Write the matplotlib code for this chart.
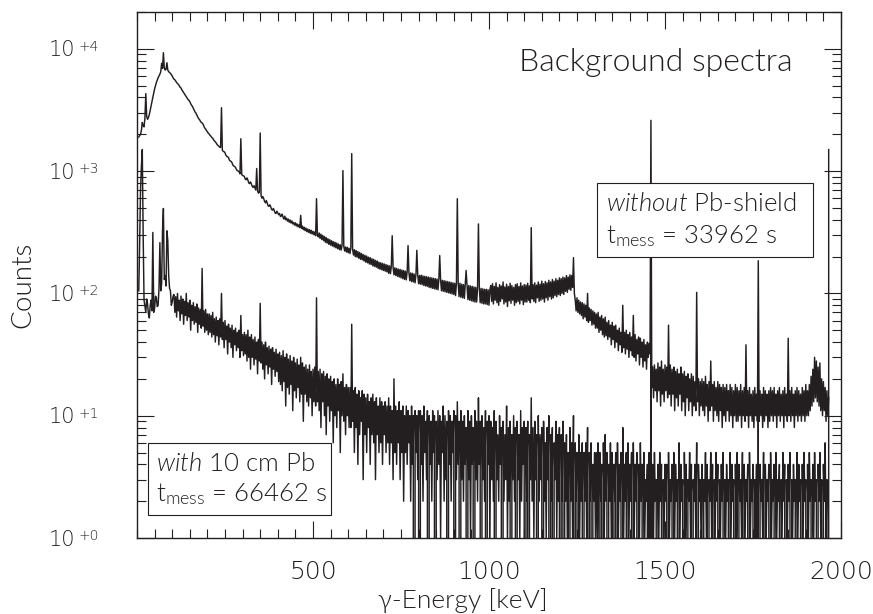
import numpy as np
import matplotlib
matplotlib.use("Agg")
import matplotlib.pyplot as plt
from matplotlib.ticker import FixedLocator, MultipleLocator, LogLocator, NullFormatter, FixedFormatter
from matplotlib.patches import Rectangle
from matplotlib import font_manager as fm

# ---------------- data ----------------
E_START_KEV = 5.0    # energy of first plotted channel
E_STEP_KEV = 2.5     # energy width of one plotted channel (5 ... 1965 keV)

# spectrum without Pb shield (t = 33962 s); one block = 100 keV
counts_without = [
    1900, 1950, 2000, 2150, 2500, 2350, 2300, 2700, 4300, 2800,
    2650, 2750, 2900, 3150, 3400, 3700, 4000, 4350, 4700, 5000,
    5300, 5550, 5800, 6000, 6200, 6500, 7600, 6900, 9300, 7000,
    6700, 6800, 7700, 6700, 6500, 6400, 6300, 6150, 6000, 5800,
    # 105 keV
    5650, 5580, 5450, 5300, 5200, 5120, 5000, 4850, 4780, 4620,
    4500, 4400, 4270, 4150, 4050, 3960, 3850, 3790, 3700, 3560,
    3460, 3380, 3260, 3150, 3040, 2980, 2870, 2770, 2690, 2640,
    2560, 2500, 2480, 2420, 2330, 2250, 2210, 2140, 2100, 2040,
    # 205 keV
    2010, 1960, 1930, 1880, 1860, 1800, 1770, 1730, 1700, 1650,
    1620, 1600, 1570, 1560, 3300, 1480, 1450, 1440, 1410, 1350,
    1320, 1310, 1290, 1230, 1210, 1200, 1170, 1120, 1100, 1090,
    1070, 1030, 1010, 1000, 990, 950, 1840, 940, 920, 915,
    # 305 keV
    905, 860, 850, 880, 845, 800, 790, 815, 785, 750,
    735, 760, 730, 700, 1050, 690, 660, 670, 2050, 630,
    600, 620, 595, 565, 550, 575, 545, 520, 515, 530,
    510, 485, 480, 495, 475, 455, 450, 470, 455, 440,
    # 405 keV
    450, 425, 430, 445, 418, 405, 428, 400, 412, 390,
    405, 382, 398, 376, 392, 370, 380, 362, 378, 356,
    370, 350, 364, 345, 435, 340, 355, 332, 348, 326,
    342, 320, 336, 315, 332, 310, 328, 306, 322, 302,
    # 505 keV
    318, 296, 595, 300, 290, 312, 282, 305, 276, 298,
    270, 292, 262, 286, 258, 280, 252, 275, 248, 270,
    244, 265, 240, 262, 236, 258, 232, 253, 228, 250,
    226, 246, 1010, 242, 222, 240, 218, 238, 215, 234,
    # 605 keV
    212, 236, 1390, 230, 206, 228, 200, 224, 198, 220,
    194, 216, 190, 212, 188, 208, 184, 205, 180, 202,
    178, 198, 174, 196, 172, 192, 168, 190, 166, 186,
    164, 184, 160, 180, 158, 178, 156, 176, 154, 174,
    # 705 keV
    152, 172, 150, 170, 146, 168, 145, 166, 296, 164,
    142, 162, 140, 160, 138, 158, 136, 157, 134, 155,
    132, 154, 130, 152, 129, 150, 246, 148, 127, 147,
    125, 146, 124, 144, 122, 143, 225, 142, 120, 140,
    # 805 keV
    119, 141, 118, 139, 116, 138, 115, 137, 114, 136,
    112, 135, 111, 134, 110, 133, 109, 132, 108, 131,
    107, 130, 204, 129, 105, 128, 104, 127, 103, 126,
    102, 125, 101, 124, 100, 123, 99, 122, 98, 121,
    # 905 keV
    96, 122, 595, 120, 94, 121, 93, 119, 92, 118,
    91, 117, 154, 116, 89, 116, 88, 115, 87, 114,
    86, 113, 85, 112, 85, 111, 370, 110, 84, 110,
    83, 109, 82, 108, 82, 108, 81, 107, 80, 107,
    # 1005 keV
    116, 86, 120, 82, 114, 88, 122, 84, 112, 80,
    118, 86, 115, 90, 124, 82, 113, 85, 119, 78,
    114, 87, 121, 83, 116, 88, 112, 80, 118, 84,
    120, 86, 114, 82, 122, 88, 115, 81, 118, 85,
    # 1105 keV
    117, 85, 121, 88, 115, 84, 345, 90, 118, 86,
    122, 84, 117, 92, 124, 86, 119, 88, 126, 90,
    120, 85, 125, 92, 122, 88, 128, 94, 124, 90,
    130, 92, 126, 96, 132, 94, 128, 98, 134, 96,
    # 1205 keV
    132, 100, 136, 98, 134, 104, 140, 102, 136, 108,
    142, 106, 140, 112, 196, 100, 88, 72, 92, 70,
    88, 68, 85, 66, 84, 62, 82, 64, 80, 60,
    100, 58, 76, 60, 74, 55, 72, 56, 70, 52,
    # 1305 keV
    68, 52, 70, 48, 64, 50, 66, 46, 62, 44,
    64, 45, 58, 42, 60, 44, 55, 38, 58, 42,
    54, 36, 55, 40, 50, 34, 52, 38, 48, 33,
    80, 36, 48, 32, 50, 35, 46, 30, 48, 34,
    # 1405 keV
    44, 31, 66, 30, 46, 28, 42, 32, 44, 26,
    43, 30, 40, 25, 42, 28, 38, 24, 40, 30,
    39, 32, 2600, 17, 25, 14, 26, 16, 24, 13,
    27, 16, 25, 12, 28, 15, 24, 13, 26, 16,
    # 1505 keV
    25, 14, 55, 15, 26, 12, 24, 15, 25, 11,
    23, 14, 24, 12, 22, 15, 25, 11, 22, 13,
    23, 10, 21, 14, 22, 11, 20, 13, 22, 10,
    21, 12, 19, 11, 102, 13, 20, 10, 19, 12,
    # 1605 keV
    20, 11, 19, 10, 21, 12, 18, 9, 19, 11,
    28, 12, 18, 9, 19, 11, 17, 10, 19, 9,
    18, 11, 17, 8, 18, 10, 17, 9, 18, 11,
    16, 9, 18, 10, 17, 8, 16, 10, 18, 9,
    # 1705 keV
    17, 9, 16, 10, 18, 8, 16, 10, 17, 9,
    38, 10, 16, 8, 17, 10, 15, 9, 16, 8,
    17, 10, 15, 9, 185, 9, 16, 10, 15, 8,
    17, 9, 16, 10, 15, 8, 16, 9, 17, 10,
    # 1805 keV
    16, 9, 17, 10, 15, 8, 16, 10, 17, 9,
    15, 10, 16, 8, 17, 10, 15, 9, 43, 10,
    16, 9, 17, 10, 15, 8, 16, 10, 17, 9,
    16, 10, 15, 9, 17, 10, 16, 9, 18, 10,
    # 1905 keV
    16, 10, 18, 11, 21, 12, 24, 13, 30, 14,
    28, 13, 25, 12, 27, 11, 20, 10, 19, 11,
    17, 9, 16, 10, 14,
]

# spectrum with 10 cm Pb shield (t = 66462 s); same channels
counts_with = [
    105, 250, 700, 1100, 1500, 300, 88, 78, 70, 90,
    82, 68, 63, 80, 88, 72, 315, 70, 75, 95,
    92, 78, 80, 110, 260, 105, 120, 325, 495, 130,
    140, 115, 325, 270, 140, 110, 105, 80, 85, 95,
    # 105 keV
    98, 70, 94, 64, 100, 72, 88, 60, 95, 68,
    90, 56, 86, 66, 100, 60, 84, 64, 88, 50,
    80, 60, 84, 56, 78, 58, 82, 48, 76, 56,
    74, 52, 160, 54, 72, 48, 74, 50, 68, 46,
    # 205 keV
    68, 48, 66, 44, 70, 46, 62, 40, 64, 45,
    60, 38, 62, 44, 100, 42, 58, 36, 60, 42,
    54, 32, 56, 40, 52, 36, 55, 30, 50, 38,
    52, 34, 48, 36, 50, 30, 66, 34, 46, 31,
    # 305 keV
    48, 32, 46, 28, 50, 30, 44, 24, 46, 30,
    42, 26, 44, 29, 40, 22, 42, 28, 83, 27,
    40, 24, 38, 20, 40, 26, 36, 22, 37, 25,
    35, 18, 36, 24, 33, 21, 35, 23, 32, 19,
    # 405 keV
    33, 18, 31, 16, 34, 19, 30, 12, 32, 17,
    29, 15, 31, 18, 28, 11, 30, 16, 27, 14,
    29, 17, 26, 13, 30, 15, 27, 9, 25, 15,
    26, 13, 24, 12, 26, 14, 23, 10, 24, 13,
    # 505 keV
    25, 12, 92, 13, 23, 11, 24, 8, 22, 13,
    23, 10, 21, 7, 22, 12, 20, 9, 21, 11,
    19, 6, 20, 10, 18, 8, 20, 11, 18, 5,
    19, 10, 22, 9, 17, 7, 18, 10, 17, 8,
    # 605 keV
    17, 8, 56, 9, 16, 5, 17, 8, 15, 4,
    16, 7, 14, 9, 16, 3, 15, 7, 14, 5,
    15, 8, 13, 4, 14, 7, 15, 6, 13, 3,
    14, 7, 12, 5, 14, 6, 13, 4, 12, 7,
    # 705 keV
    13, 5, 12, 6, 14, 4, 12, 6, 11, 3,
    20, 5, 12, 4, 11, 6, 13, 3, 11, 5,
    12, 2, 10, 5, 12, 4, 11, 6, 10, 2,
    12, 4, 10, 0, 11, 5, 10, 3, 11, 0,
    # 805 keV
    11, 4, 10, 2, 12, 5, 9, 3, 11, 0,
    10, 4, 9, 2, 11, 5, 10, 0, 9, 3,
    11, 4, 10, 1, 9, 5, 12, 2, 10, 3,
    9, 0, 11, 4, 10, 2, 9, 5, 11, 0,
    # 905 keV
    10, 3, 13, 4, 9, 0, 11, 3, 9, 2,
    10, 4, 8, 0, 11, 3, 9, 1, 10, 4,
    8, 0, 11, 3, 9, 2, 14, 4, 9, 0,
    10, 3, 8, 2, 11, 0, 9, 4, 10, 1,
    # 1005 keV
    9, 3, 8, 2, 11, 0, 9, 3, 7, 2,
    10, 4, 8, 0, 9, 2, 7, 3, 12, 1,
    8, 2, 9, 0, 7, 3, 10, 2, 8, 0,
    9, 3, 7, 1, 11, 2, 8, 4, 9, 0,
    # 1105 keV
    8, 2, 9, 0, 7, 3, 14, 2, 8, 1,
    9, 3, 7, 0, 10, 2, 7, 3, 8, 0,
    9, 2, 6, 1, 8, 3, 10, 0, 7, 2,
    8, 0, 6, 3, 9, 1, 7, 2, 8, 0,
    # 1205 keV
    7, 2, 9, 0, 6, 2, 7, 1, 5, 0,
    8, 2, 6, 1, 10, 0, 6, 2, 5, 0,
    7, 1, 5, 2, 6, 0, 5, 2, 6, 1,
    8, 0, 5, 2, 6, 0, 4, 2, 5, 1,
    # 1305 keV
    5, 1, 6, 0, 5, 2, 4, 0, 6, 1,
    7, 2, 5, 0, 4, 2, 6, 1, 5, 0,
    4, 2, 5, 0, 6, 1, 4, 2, 5, 0,
    8, 1, 4, 2, 5, 0, 6, 1, 4, 2,
    # 1405 keV
    5, 0, 6, 1, 4, 2, 5, 0, 4, 1,
    6, 2, 4, 0, 5, 1, 3, 2, 4, 0,
    5, 0, 150, 0, 4, 1, 5, 2, 3, 0,
    4, 1, 5, 2, 4, 0, 3, 1, 4, 2,
    # 1505 keV
    4, 0, 5, 1, 3, 2, 4, 0, 5, 1,
    4, 2, 3, 0, 6, 1, 4, 2, 3, 0,
    5, 1, 4, 0, 3, 2, 5, 1, 4, 0,
    3, 2, 4, 1, 6, 0, 4, 2, 3, 1,
    # 1605 keV
    4, 0, 3, 2, 5, 1, 4, 0, 3, 2,
    5, 1, 4, 0, 3, 1, 5, 2, 4, 0,
    3, 1, 4, 2, 5, 0, 3, 1, 4, 2,
    3, 0, 5, 1, 4, 2, 3, 0, 4, 1,
    # 1705 keV
    5, 0, 4, 2, 3, 1, 5, 0, 4, 1,
    3, 2, 4, 0, 5, 1, 3, 2, 4, 0,
    3, 1, 4, 0, 15, 0, 4, 2, 3, 1,
    5, 0, 4, 1, 3, 2, 4, 0, 5, 1,
    # 1805 keV
    3, 2, 4, 0, 5, 1, 3, 2, 4, 0,
    3, 1, 5, 2, 4, 0, 3, 1, 4, 2,
    5, 0, 3, 1, 4, 2, 3, 0, 5, 1,
    4, 2, 3, 0, 4, 1, 5, 2, 3, 0,
    # 1905 keV
    4, 1, 5, 2, 3, 0, 4, 1, 5, 2,
    3, 0, 4, 2, 5, 1, 3, 0, 4, 2,
    6, 1, 3, 0, 1500,
]

x_major_ticks = [500, 1000, 1500, 2000]
x_tick_labels = ["500", "1000", "1500", "2000"]
y_decades = [0, 1, 2, 3, 4]

title_text = "Background spectra"
box_without = ("without", " Pb-shield", "33962 s")
box_with = ("with", " 10 cm Pb", "66462 s")

assert len(counts_without) == 785, len(counts_without)
assert len(counts_with) == 785, len(counts_with)

# ---------------- style ----------------
INK = "#231f20"

def weights_of(fam):
    out = set()
    for f in fm.fontManager.ttflist:
        if f.name == fam:
            try:
                out.add(int(f.weight))
            except (TypeError, ValueError):
                out.add(f.weight)
    return out

def pick_light_font():
    for fam in ["Lato", "Open Sans", "Roboto", "Noto Sans", "Inter"]:
        ws = weights_of(fam)
        if 300 in ws or "light" in ws:
            return fam, 300
    return "DejaVu Sans", 400

TEXT_FONT, TEXT_W = pick_light_font()
if 200 in weights_of("DejaVu Sans") or "extra light" in weights_of("DejaVu Sans"):
    TICK_FONT, TICK_W, XT_SIZE, YT_SIZE = "DejaVu Sans", 200, 18, 15
else:
    TICK_FONT, TICK_W, XT_SIZE, YT_SIZE = TEXT_FONT, TEXT_W, 19, 16.5

plt.rcParams["mathtext.fontset"] = "custom"
plt.rcParams["mathtext.rm"] = "%s:weight=%d" % (TEXT_FONT, TEXT_W)
plt.rcParams["mathtext.it"] = "%s:italic:weight=%d" % (TEXT_FONT, TEXT_W)
plt.rcParams["mathtext.sf"] = "%s:weight=%d" % (TEXT_FONT, TEXT_W)

W, H = 873, 614
L, R, T, B = 137, 841, 12, 538
fig = plt.figure(figsize=(W / 100, H / 100), dpi=100)
ax = fig.add_axes([L / W, 1 - B / H, (R - L) / W, (B - T) / H])

def fx(px):
    return px / W

def fy(py):
    return 1 - py / H

energy_without = E_START_KEV + E_STEP_KEV * np.arange(len(counts_without))
energy_with = E_START_KEV + E_STEP_KEV * np.arange(len(counts_with))

ax.plot(energy_without, counts_without, color=INK, lw=1.05, zorder=2)
ax.plot(energy_with, counts_with, color=INK, lw=1.05, zorder=2)

ax.set_yscale("log", nonpositive="clip")
ax.set_ylim(1, 2e4)
ax.set_xlim(0, 2000)

for s in ax.spines.values():
    s.set_color(INK)
    s.set_linewidth(1.0)

ax.xaxis.set_major_locator(FixedLocator(x_major_ticks))
ax.xaxis.set_major_formatter(FixedFormatter(x_tick_labels))
ax.xaxis.set_minor_locator(MultipleLocator(50))
ax.yaxis.set_major_locator(LogLocator(base=10, numticks=10))
ax.yaxis.set_minor_locator(LogLocator(base=10, subs=np.arange(2, 10), numticks=10))
ax.yaxis.set_major_formatter(NullFormatter())
ax.yaxis.set_minor_formatter(NullFormatter())

ax.tick_params(which="both", direction="in", top=True, right=True, color=INK, width=0.8)
ax.tick_params(which="major", length=12.5)
ax.tick_params(which="minor", length=6.5)
ax.tick_params(axis="x", which="major", pad=16, labelsize=XT_SIZE, labelcolor=INK)
for lab in ax.get_xticklabels():
    lab.set_fontfamily(TICK_FONT)
    lab.set_fontweight(TICK_W)

# y tick labels "10^{+k}"
ytr = ax.get_yaxis_transform()
for k in y_decades:
    ax.annotate("10", xy=(0, 10.0 ** k), xycoords=ytr, xytext=(75 - L, -7.6),
                textcoords="offset pixels", ha="right", va="baseline",
                fontsize=YT_SIZE, fontfamily=TICK_FONT, fontweight=TICK_W, color=INK,
                annotation_clip=False)
    ax.annotate("+%d" % k, xy=(0, 10.0 ** k), xycoords=ytr, xytext=(79 - L, 9),
                textcoords="offset pixels", ha="left", va="top",
                fontsize=10, fontfamily=TICK_FONT, fontweight=TICK_W, color=INK,
                annotation_clip=False)

# axis labels and title
fig.text(fx(23), fy(285), "Counts", rotation=90, ha="center", va="center",
         fontsize=20, fontfamily=TEXT_FONT, fontweight=TEXT_W, color=INK)
fig.text(fx(463), fy(601), "\u03b3-Energy [keV]", ha="center", va="center",
         fontsize=19, fontfamily=TEXT_FONT, fontweight=TEXT_W, color=INK)
fig.text(fx(793), fy(71), title_text, ha="right", va="baseline",
         fontsize=23, fontfamily=TEXT_FONT, fontweight=TEXT_W, color=INK)

# boxes
def add_box(x0, y0, x1, y1, lines, tx, b1, b2):
    rect = Rectangle((fx(x0), fy(y1)), fx(x1) - fx(x0), fy(y0) - fy(y1),
                     transform=fig.transFigure, facecolor="white", edgecolor=INK,
                     lw=0.8, zorder=5)
    fig.add_artist(rect)
    it, rest, tval = lines
    fig.text(fx(tx), fy(b1), r"$\mathit{%s}$%s" % (it, rest), ha="left", va="baseline",
             fontsize=18.5, fontfamily=TEXT_FONT, fontweight=TEXT_W, color=INK, zorder=6)
    fig.text(fx(tx), fy(b2), r"t$_{\mathrm{mess}}$ = " + tval, ha="left", va="baseline",
             fontsize=18.5, fontfamily=TEXT_FONT, fontweight=TEXT_W, color=INK, zorder=6)

add_box(597, 183, 813, 257, box_without, 606, 211, 243)
add_box(148, 443, 331, 515, box_with, 156, 471, 501)

fig.savefig("out.png", dpi=100)
